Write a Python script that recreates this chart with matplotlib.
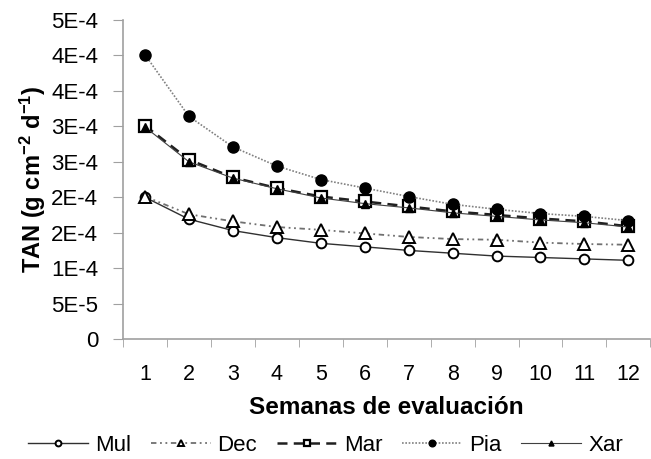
import math
import matplotlib
matplotlib.use("Agg")
import matplotlib.pyplot as plt
import numpy as np
from matplotlib.ticker import FuncFormatter

plt.rcParams['font.family'] = ['Liberation Sans', 'DejaVu Sans']
plt.rcParams['mathtext.fontset'] = 'custom'
plt.rcParams['mathtext.rm'] = 'Liberation Sans'
plt.rcParams['mathtext.bf'] = 'Liberation Sans:bold'
plt.rcParams['mathtext.default'] = 'bf'

# Data (weeks 1..12)
weeks = list(range(1, 13))
mul = [2.00e-4, 1.69e-4, 1.53e-4, 1.43e-4, 1.35e-4, 1.30e-4,
       1.25e-4, 1.21e-4, 1.17e-4, 1.15e-4, 1.13e-4, 1.11e-4]
dec = [2.01e-4, 1.76e-4, 1.66e-4, 1.58e-4, 1.54e-4, 1.49e-4,
       1.44e-4, 1.41e-4, 1.40e-4, 1.36e-4, 1.34e-4, 1.33e-4]
mar = [3.01e-4, 2.53e-4, 2.28e-4, 2.13e-4, 2.01e-4, 1.94e-4,
       1.87e-4, 1.80e-4, 1.75e-4, 1.70e-4, 1.66e-4, 1.59e-4]
pia = [4.01e-4, 3.14e-4, 2.71e-4, 2.44e-4, 2.25e-4, 2.13e-4,
       2.01e-4, 1.90e-4, 1.83e-4, 1.77e-4, 1.73e-4, 1.67e-4]
xar = [2.99e-4, 2.50e-4, 2.27e-4, 2.12e-4, 1.99e-4, 1.91e-4,
       1.85e-4, 1.78e-4, 1.73e-4, 1.68e-4, 1.64e-4, 1.58e-4]
y_ticks = np.arange(10) * 0.5e-4


def excel_sci(v, pos=None):
    # mimic Excel "0E+0" number format (round half up)
    if abs(v) < 1e-12:
        return "0"
    e = math.floor(math.log10(abs(v)) + 1e-9)
    m = int(abs(v) / 10 ** e + 0.5 + 1e-9)
    if m == 10:
        m, e = 1, e + 1
    return f"{m}E{e}"


fig = plt.figure(figsize=(6.51, 4.59), dpi=100)
ax = fig.add_axes([0.189, 0.2614, 0.810, 0.695])

ax.plot(weeks, mul, color='#303030', lw=1.0, ls='-', marker='o', ms=7,
        mfc='white', mec='black', mew=1.4, label='Mul')
ax.plot(weeks, dec, color='#707070', lw=1.3, ls=(0, (3, 2, 1, 2, 1, 2)),
        marker='^', ms=8, mfc='white', mec='black', mew=1.4, label='Dec')
ax.plot(weeks, mar, color='#202020', lw=1.8, ls=(0, (4, 2.5)), marker='s',
        ms=8, mfc='white', mec='black', mew=1.6, label='Mar')
ax.plot(weeks, pia, color='#808080', lw=1.2, ls=(0, (1, 1)), marker='o',
        ms=8, mfc='black', mec='black', label='Pia')
ax.plot(weeks, xar, color='#404040', lw=0.8, ls='-', marker='^', ms=6,
        mfc='black', mec='black', label='Xar')

ax.set_xlim(0.5, 12.5)
ax.set_ylim(0, 4.5e-4)
ax.set_yticks(y_ticks)
ax.yaxis.set_major_formatter(FuncFormatter(excel_sci))
ax.set_xticks(weeks)
ax.set_xticks(np.arange(0.5, 13, 1), minor=True)
ax.tick_params(axis='x', which='major', length=0, labelsize=15.5, pad=18)
ax.tick_params(axis='x', which='minor', length=6, color='#a0a0a0',
               direction='out')
ax.tick_params(axis='y', length=7, color='#a0a0a0', labelsize=16, pad=11)

for side in ('top', 'right'):
    ax.spines[side].set_visible(False)
for side in ('left', 'bottom'):
    ax.spines[side].set_color('#a0a0a0')
    ax.spines[side].set_linewidth(1.2)

ax.set_xlabel("Semanas de evaluación", fontsize=17.5, fontweight='bold',
              labelpad=8)
ax.set_ylabel(r"TAN (g cm$^{-2}$ d$^{-1}$)", fontsize=17, fontweight='bold',
              labelpad=2)

fig.legend(loc='center', bbox_to_anchor=(0.5, 0.03), ncol=5, frameon=False,
           fontsize=16, handlelength=2.7, columnspacing=0.9,
           handletextpad=0.3, markerscale=0.6)

fig.savefig("out.png", dpi=100)
